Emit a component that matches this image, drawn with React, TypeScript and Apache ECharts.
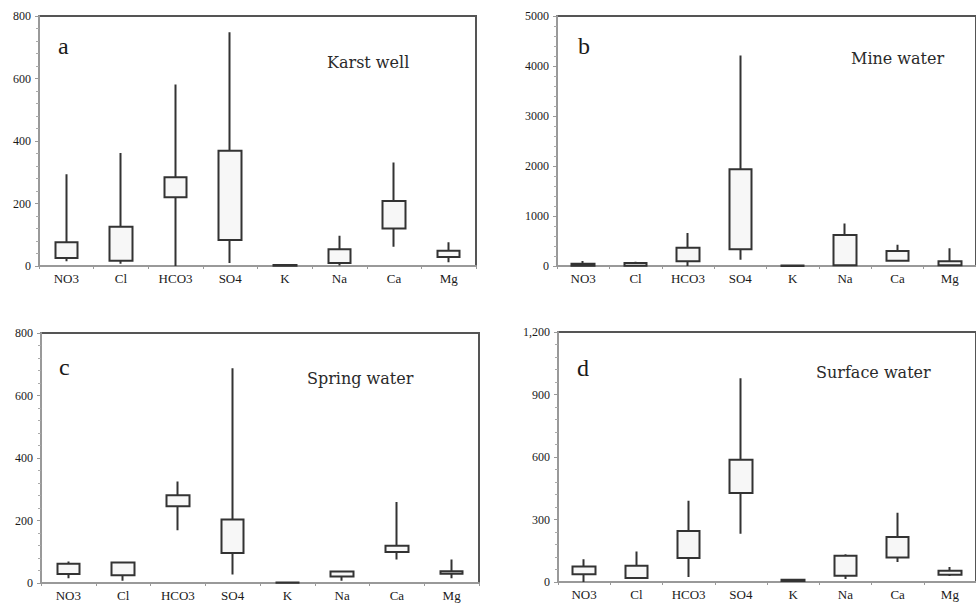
import React, { useEffect, useRef } from "react";
import * as echarts from "echarts";

const categories = ["NO3", "Cl", "HCO3", "SO4", "K", "Na", "Ca", "Mg"];

// each entry: [q1, q3, min, max]
const karstWell = [
  [26, 76, 15, 294],
  [17, 126, 7, 362],
  [220, 284, 0, 581],
  [83, 369, 10, 748],
  [1, 3, 0.5, 4],
  [10, 54, 2, 97],
  [120, 208, 62, 331],
  [29, 49, 12, 76],
];
const mineWater = [
  [5, 45, 0, 100],
  [5, 60, 0, 87],
  [93, 367, 0, 661],
  [334, 1936, 127, 4212],
  [0, 10, 0, 15],
  [13, 621, 0, 848],
  [107, 300, 100, 427],
  [13, 93, 0, 354],
];
const springWater = [
  [29, 62, 15, 69],
  [25, 66, 7, 66],
  [246, 281, 169, 325],
  [96, 203, 27, 687],
  [0.5, 2, 0, 2],
  [21, 37, 7, 37],
  [99, 119, 75, 259],
  [30, 38, 15, 75],
];
const surfaceWater = [
  [37, 75, 0, 109],
  [19, 78, 19, 147],
  [115, 245, 24, 390],
  [427, 587, 232, 978],
  [5, 11, 3, 13],
  [30, 126, 14, 133],
  [118, 216, 96, 333],
  [35, 54, 29, 72],
];

const yMax = [800, 5000, 800, 1200];
const yInterval = [200, 1000, 200, 300];
const panelLetters = ["a", "b", "c", "d"];
const panelTitles = ["Karst well", "Mine water", "Spring water", "Surface water"];

const SERIF = "'Liberation Serif', 'Times New Roman', Times, serif";

export default function App() {
  const ref = useRef<HTMLDivElement>(null);
  useEffect(() => {
    if (!ref.current) return;
    const chart = echarts.init(ref.current, null, { renderer: "svg" });
    const grids = [
      { left: 39, top: 16, width: 437, height: 250 },
      { left: 557, top: 16, width: 430, height: 250 },
      { left: 41, top: 333, width: 438, height: 250 },
      { left: 558, top: 332, width: 430, height: 250 },
    ].map((g) => ({
      ...g,
      show: true,
      borderColor: "#555",
      borderWidth: 2,
      backgroundColor: "transparent",
    }));
    const datasets = [karstWell, mineWater, springWater, surfaceWater];
    const xAxis = grids.map((_, i) => ({
      type: "category",
      gridIndex: i,
      data: categories,
      axisLine: { lineStyle: { color: "#999", width: 2 } },
      axisTick: { show: true, length: 3, lineStyle: { color: "#999" } },
      axisLabel: { color: "#1a1a1a", fontFamily: SERIF, fontSize: 13, margin: 6 },
      splitLine: { show: false },
    }));
    const yAxis = grids.map((_, i) => ({
      type: "value",
      gridIndex: i,
      min: 0,
      max: yMax[i],
      interval: yInterval[i],
      axisLine: { show: true, lineStyle: { color: "#999", width: 2 } },
      axisTick: { show: true, length: 4, lineStyle: { color: "#999" } },
      minorTick: { show: true, splitNumber: 5, length: 3, lineStyle: { color: "#aaa" } },
      axisLabel: {
        color: "#1a1a1a",
        fontFamily: SERIF,
        fontSize: 12,
        margin: 8,
        formatter: (v: number) => (i === 3 ? v.toLocaleString("en-US") : String(v)),
      },
      splitLine: { show: false },
    }));
    const series = datasets.map((d, i) => ({
      type: "candlestick",
      xAxisIndex: i,
      yAxisIndex: i,
      data: d,
      barWidth: 23,
      itemStyle: {
        color: "#f7f7f7",
        color0: "#f7f7f7",
        borderColor: "#333",
        borderColor0: "#333",
        borderWidth: 2,
      },
    }));
    const letterPos = [
      [58, 46],
      [578, 46],
      [59, 367],
      [577, 368],
    ];
    const titlePos = [
      [327, 62],
      [851, 58],
      [307, 378],
      [816, 372],
    ];
    const graphic: any[] = [];
    for (let i = 0; i < 4; i++) {
      graphic.push({
        type: "text",
        x: letterPos[i][0],
        y: letterPos[i][1],
        style: {
          text: panelLetters[i],
          font: `24px ${SERIF}`,
          fill: "#1a1a1a",
          textAlign: "left",
          textVerticalAlign: "middle",
        },
      });
      graphic.push({
        type: "text",
        x: titlePos[i][0],
        y: titlePos[i][1],
        style: {
          text: panelTitles[i],
          font: `16px 'DejaVu Serif', serif`,
          fill: "#2a2a2a",
          textAlign: "left",
          textVerticalAlign: "middle",
        },
      });
    }
    chart.setOption({
      animation: false,
      backgroundColor: "#fff",
      grid: grids,
      xAxis,
      yAxis,
      series,
      graphic,
    });
    return () => chart.dispose();
  }, []);
  return (
    <div
      ref={ref}
      style={{ position: "absolute", left: 0, top: 0, width: 976, height: 603 }}
    />
  );
}
